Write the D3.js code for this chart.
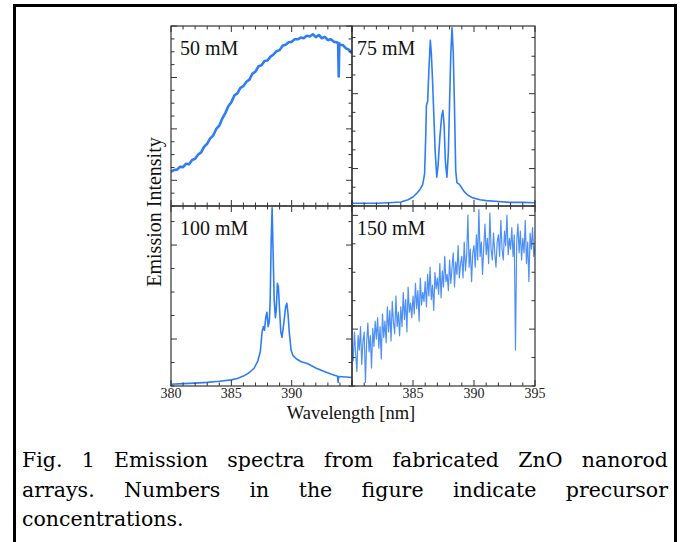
<!DOCTYPE html>
<html>
<head>
<meta charset="utf-8">
<script src="https://cdn.jsdelivr.net/npm/d3@7"></script>
<style>
  body { margin: 0; background: #fff; }
  #wrap { position: relative; width: 682px; height: 542px; overflow: hidden; }
  svg { position: absolute; left: 0; top: 0; }
  .cap { position: absolute; left: 22px; width: 646px; font-family: "DejaVu Serif", serif;
         font-size: 20.5px; color: #000; text-align: justify; text-align-last: justify; white-space: nowrap; line-height: 29px; }
  .cap.last { text-align-last: left; }
</style>
</head>
<body>
<div id="wrap"></div>
<script>
// spectra, intensity in % of panel height
const wl50 = [380,380.25,380.5,380.75,381,381.25,381.5,381.75,382,382.25,382.5,382.75,383,383.25,383.5,383.75,384,384.25,384.5,384.75,385,385.25,385.5,385.75,386,386.25,386.5,386.75,387,387.25,387.5,387.75,388,388.25,388.5,388.75,389,389.25,389.5,389.75,390,390.25,390.5,390.75,391,391.25,391.5,391.75,392,392.25,392.5,392.75,393,393.25,393.5,393.75,393.85,393.9,393.95,394,394.25,394.5,394.75,395];
const int50 = [19,20,20.2,21.8,21.6,23.5,23.2,25.6,26.2,28.6,29.8,33,34.6,37.6,39.2,42.8,44.6,48.6,51.6,55.4,57.6,61.4,62.6,65.6,66.6,69,70.2,73.6,74.6,77.6,78.2,80.6,80.8,83,84.2,86,86.6,89,89.6,91,91.2,92.6,92.6,93.6,93.2,94.6,94.2,95.4,93.8,95,93.2,94,92.2,92.6,91.2,91,90.2,72,90.4,89.6,89.4,87.6,86.8,84.8];

const wl75 = [380,381,382,383,384,384.6,385,385.3,385.6,385.8,385.95,386.05,386.1,386.2,386.3,386.42,386.5,386.6,386.7,386.82,386.95,387.05,387.2,387.35,387.45,387.55,387.65,387.78,387.9,388,388.1,388.2,388.3,388.4,388.5,388.6,388.8,389,389.2,389.5,389.9,390.5,391,392,393,394,395];
const int75 = [1.5,1.5,1.5,1.8,2.2,3.5,5,7,9.5,12,18,40,56,58,75,92,85,70,52,30,16,22,38,50,53,45,25,16,30,58,85,99,85,55,20,13,12,10,8,6,4.5,3.5,3,2.5,2,2,1.8];

const wl100 = [380,381,382,383,384,385,385.5,386,386.5,386.9,387.2,387.4,387.55,387.65,387.75,387.85,387.95,388.05,388.15,388.22,388.3,388.38,388.46,388.55,388.65,388.72,388.82,388.9,389,389.1,389.2,389.35,389.5,389.6,389.7,389.8,389.95,390.1,390.4,390.8,391.3,392,392.7,393.3,393.8,393.85,393.9,394.5,395];
const int100 = [1,1.3,1.6,2,2.6,3.4,4.2,5.5,7.5,10,14,19,30,33,31,38,41,33,36,48,80,99,75,48,38,42,57,55,42,30,27,35,44,46,40,30,20,17,15,13.5,12.5,10,8,6.5,5.4,2,5.3,5,4.7];

// 150 mM: one reading every 0.1 nm from 380 to 395
const int150 = [
  24,14,30,18,8,28,20,33,12,25,
  30,2,24,35,19,28,10,32,22,36,
  26,38,21,33,15,40,27,36,24,44,
  30,42,25,47,35,29,50,33,41,28,
  44,33,52,37,48,30,55,41,46,38,
  50,40,57,43,53,36,60,45,52,47,
  58,44,62,50,66,48,56,42,63,54,
  60,51,68,49,64,55,72,58,62,53,
  70,57,66,74,55,69,62,78,60,68,
  72,60,80,64,73,95,66,76,58,74,
  78,66,84,70,98,72,80,62,77,90,
  73,82,68,96,76,70,85,74,66,80,
  84,72,92,76,70,86,78,95,73,82,
  76,88,72,84,20,80,90,74,86,70,
  82,74,92,68,80,58,85,76,88,72,
  78];
const wl150 = int150.map((d, i) => 380 + i * 0.1);

const labels = ["50 mM", "75 mM", "100 mM", "150 mM"];
const xTicks = [380, 381, 382, 383, 384, 385, 386, 387, 388, 389, 390, 391, 392, 393, 394, 395];
const xTickLabelsLeft = [380, 385, 390];
const xTickLabelsRight = [385, 390, 395];
// y tick spacing per panel, in % of panel height
const yStep = [7.14, 10.4, 13.05, 15.8];

const blue = "#2f7df3";
const W = 682, H = 542;

const svg = d3.select("#wrap").append("svg").attr("width", W).attr("height", H);

// outer frame
svg.append("rect")
  .attr("x", 14.5).attr("y", 5.5).attr("width", 661).attr("height", 600)
  .attr("fill", "none").attr("stroke", "#000").attr("stroke-width", 3);

const colX = [[171, 352], [352, 535]];
const rowY = [[206, 26], [386, 206]];
const series = [[wl50, int50], [wl75, int75], [wl100, int100], [wl150, int150]];

series.forEach(([xs, ys], i) => {
  const col = i % 2, row = Math.floor(i / 2);
  const x = d3.scaleLinear().domain([380, 395]).range(colX[col]);
  const y = d3.scaleLinear().domain([0, 100]).range(rowY[row]);
  const g = svg.append("g");

  g.append("defs").append("clipPath").attr("id", "clip" + i)
    .append("rect").attr("x", colX[col][0]).attr("y", rowY[row][1])
    .attr("width", colX[col][1] - colX[col][0]).attr("height", rowY[row][0] - rowY[row][1]);

  const line = d3.line().x((d, k) => x(xs[k])).y(d => y(d));
  g.append("path")
    .attr("d", line(ys))
    .attr("clip-path", "url(#clip" + i + ")")
    .attr("fill", "none")
    .attr("stroke", blue)
    .attr("stroke-width", i === 3 ? 1.2 : (i === 0 ? 2.6 : 1.6))
    .attr("stroke-opacity", i === 3 ? 0.85 : 1)
    .attr("stroke-linejoin", "round");

  // inward x ticks on top and bottom
  const ax = g.append("g").attr("stroke", "#333").attr("stroke-width", 1);
  xTicks.forEach(t => {
    const len = t % 5 === 0 ? 6 : 3.5;
    ax.append("line").attr("x1", x(t)).attr("x2", x(t)).attr("y1", rowY[row][0]).attr("y2", rowY[row][0] - len);
    ax.append("line").attr("x1", x(t)).attr("x2", x(t)).attr("y1", rowY[row][1]).attr("y2", rowY[row][1] + len);
  });
  // inward y ticks on left and right
  d3.range(0, 100, yStep[i]).forEach((t, k) => {
    const len = k % 4 === 2 ? 6 : 3.5;
    ax.append("line").attr("y1", y(t)).attr("y2", y(t)).attr("x1", colX[col][0]).attr("x2", colX[col][0] + len);
    ax.append("line").attr("y1", y(t)).attr("y2", y(t)).attr("x1", colX[col][1]).attr("x2", colX[col][1] - len);
  });

  // panel box
  g.append("rect")
    .attr("x", colX[col][0]).attr("y", rowY[row][1])
    .attr("width", colX[col][1] - colX[col][0]).attr("height", rowY[row][0] - rowY[row][1])
    .attr("fill", "none").attr("stroke", "#333").attr("stroke-width", 1.2);

  g.append("text")
    .attr("x", colX[col][0] + (col === 0 ? 9 : 5)).attr("y", rowY[row][1] + 29)
    .attr("font-family", "Liberation Serif").attr("font-size", 20).attr("fill", "#111")
    .text(labels[i]);

  if (row === 1) {
    (col === 0 ? xTickLabelsLeft : xTickLabelsRight).forEach(t => {
      g.append("text")
        .attr("x", x(t)).attr("y", 398).attr("text-anchor", "middle")
        .attr("font-family", "Liberation Serif").attr("font-size", 14).attr("fill", "#222")
        .text(t);
    });
  }
});

svg.append("text")
  .attr("x", 351).attr("y", 419).attr("text-anchor", "middle")
  .attr("font-family", "Liberation Serif").attr("font-size", 18.5).attr("fill", "#111")
  .text("Wavelength [nm]");

svg.append("text")
  .attr("transform", "translate(161,212) rotate(-90)").attr("text-anchor", "middle")
  .attr("font-family", "Liberation Serif").attr("font-size", 20).attr("fill", "#111")
  .text("Emission Intensity");

// caption, justified like the printed figure
const captionLines = [
  "Fig. 1 Emission spectra from fabricated ZnO nanorod",
  "arrays. Numbers in the figure indicate precursor",
  "concentrations."
];
captionLines.forEach((s, i) => {
  d3.select("#wrap").append("div")
    .attr("class", "cap" + (i === captionLines.length - 1 ? " last" : ""))
    .style("top", (446 + i * 29.5) + "px")
    .text(s);
});
</script>
</body>
</html>
